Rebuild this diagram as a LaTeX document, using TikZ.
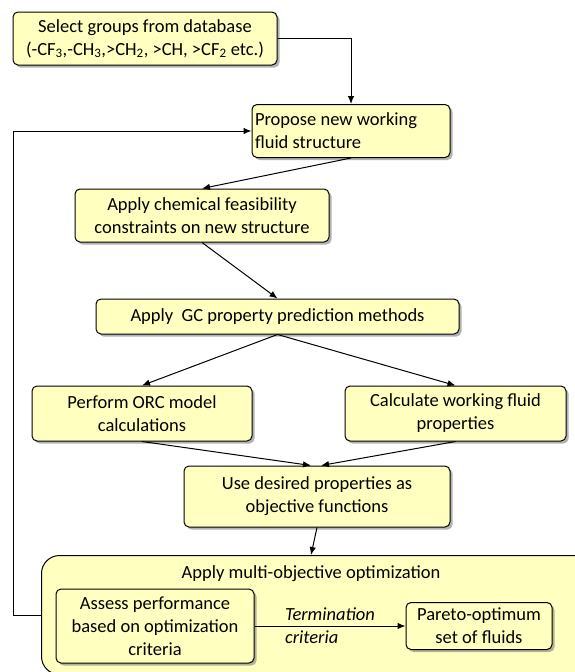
\documentclass[tikz,border=0pt]{standalone}
\usepackage{fontspec}
\setmainfont{Carlito}
\usetikzlibrary{positioning,shadows,arrows.meta}
\definecolor{boxyellow}{RGB}{255,255,192}

\begin{document}
\begin{tikzpicture}[x=1pt, y=-1pt, line width=1pt, >={Latex[length=8pt,width=6.5pt]}]
    \tikzset{flowbox/.style={
        draw, fill=boxyellow, rounded corners=5pt, align=center, inner sep=2pt,
        font=\fontsize{18.5}{23}\selectfont,
        drop shadow={shadow xshift=2.5pt, shadow yshift=-2.5pt, fill=black!60}
      },
      outerbox/.style={flowbox, rounded corners=18pt, anchor=north west},
      crit/.style={font=\fontsize{18.5}{23}\selectfont\itshape, align=left, inner sep=1pt}
    }

    \useasboundingbox (0,0) rectangle (575,672);

    \node[flowbox, text width=192pt, align=flush left, inner xsep=3pt, minimum height=53pt] (P) at (351,131)
      {Propose new working\\fluid structure};
    \node[flowbox, minimum width=264pt, minimum height=53pt] (S) at (145,38.5)
      {Select groups from database\\(-CF\textsubscript{3},-CH\textsubscript{3},>CH\textsubscript{2}, >CH, >CF\textsubscript{2} etc.)};
    \node[flowbox, minimum width=254pt, minimum height=53pt] (F) at (202,215.5)
      {Apply chemical feasibility\\constraints on new structure};
    \node[flowbox, minimum width=363pt, minimum height=35pt] (G) at (277.5,316.5)
      {Apply~~GC property prediction methods};
    \node[flowbox, minimum width=220pt, minimum height=55pt] (O) at (142,413.5)
      {Perform ORC model\\calculations};
    \node[flowbox, minimum width=221pt, minimum height=55pt] (W) at (455.5,413.5)
      {Calculate working fluid\\properties};
    \node[flowbox, minimum width=266pt, minimum height=61pt] (U) at (317,496.5)
      {Use desired properties as\\objective functions};

    \node[outerbox, minimum width=600pt, minimum height=119pt] (M) at (41,555) {};
    \node[font=\fontsize{18.5}{23}\selectfont] (T) at (311,574) {Apply multi-objective optimization};
    \node[flowbox, minimum width=198pt, minimum height=74pt] (A) at (155,626)
      {Assess performance\\based on optimization\\criteria};
    \node[flowbox, minimum width=146pt, minimum height=47pt] (R) [right=151pt of A]
      {Pareto-optimum\\set of fluids};

    \draw[->] (S.east) -| (P.north);
    \draw[->] (P.south) -- (F.north);
    \draw[->] (F.south) -- (G.north);
    \draw[->] (G.south) -- (O.north);
    \draw[->] (G.south) -- (W.north);
    \draw[->] (O.south) -- ([xshift=-6pt]U.north);
    \draw[->] (W.south) -- ([xshift=4pt]U.north);
    \draw[->] (U.south) -- ([xshift=-6pt]U.south |- M.north);

    \draw[->] (M.west) -- ++(-28,0) |- (P.west);
    \draw[->] (A) -- (R) node[midway, crit] {Termination\\criteria};
  \end{tikzpicture}
\end{document}
